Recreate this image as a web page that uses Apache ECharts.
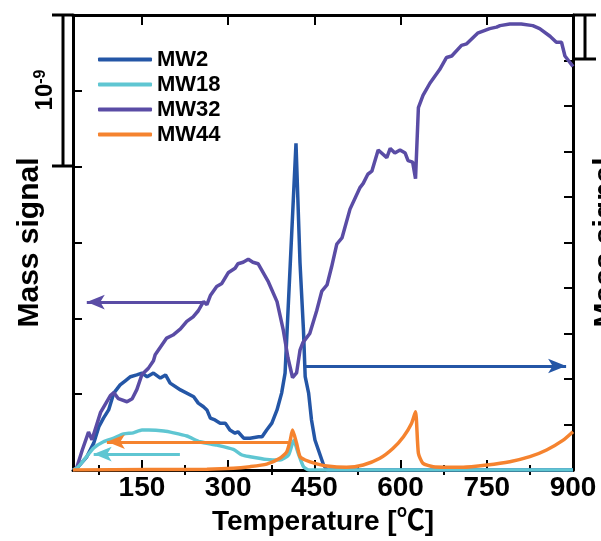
<!DOCTYPE html>
<html>
<head>
<meta charset="utf-8">
<script src="https://cdn.jsdelivr.net/npm/echarts@6.0.0/dist/echarts.min.js"></script>
<style>
    html, body { margin: 0; padding: 0; background: #fff; }
    #massSignal { width: 601px; height: 541px; }
</style>
</head>
<body>
<div id="massSignal"></div>
<script>
    // x axis ticks
    const majorTicks = [150, 300, 450, 600, 750, 900]
    const minorTicks = [75, 225, 375, 525, 675, 825]

    // MW2 (right axis)
    const mw2Temp = [30, 37, 54, 66, 75, 83, 92, 101, 112, 121, 130, 141, 150, 159, 170, 182, 191, 199, 217, 240, 248, 257, 263, 269, 277, 286, 295, 303, 312, 317, 327, 338, 353, 359, 367, 376, 385, 393, 399, 418, 425, 431, 434, 440, 445, 451, 457, 466, 472, 900]
    const mw2Val = [0, 0.04, 0.29, 0.59, 0.95, 1.14, 1.32, 1.69, 1.87, 1.96, 2.05, 2.09, 2.13, 2.05, 2.13, 2.02, 2.09, 1.91, 1.76, 1.61, 1.47, 1.39, 1.32, 1.14, 1.10, 1.03, 1.03, 0.88, 0.81, 0.84, 0.70, 0.70, 0.73, 0.73, 0.88, 1.03, 1.32, 1.69, 2.13, 7.18, 4.55, 3.08, 2.05, 1.69, 1.10, 0.66, 0.44, 0.11, 0, 0]

    // MW18 (left axis)
    const mw18Temp = [30, 37, 49, 66, 83, 101, 118, 135, 150, 162, 188, 205, 228, 251, 280, 309, 324, 338, 367, 390, 405, 414, 422, 431, 437, 442, 900]
    const mw18Val = [0, 0.013, 0.066, 0.145, 0.186, 0.21, 0.237, 0.245, 0.263, 0.263, 0.257, 0.245, 0.224, 0.186, 0.164, 0.136, 0.099, 0.088, 0.07, 0.066, 0.099, 0.194, 0.11, 0.022, 0.005, 0, 0]

    // MW32 (left axis)
    const mw32Temp = [30, 36, 46, 57, 63, 78, 95, 101, 109, 124, 133, 141, 150, 161, 170, 173, 193, 204, 217, 228, 239, 248, 257, 263, 269, 280, 289, 300, 312, 317, 326, 335, 343, 352, 370, 385, 396, 404, 412, 419, 425, 430, 442, 454, 463, 472, 480, 489, 498, 512, 529, 535, 543, 550, 561, 576, 582, 590, 599, 608, 613, 621, 626, 631, 639, 651, 668, 680, 689, 706, 715, 734, 755, 767, 773, 790, 810, 830, 842, 860, 871, 880, 886, 900]
    const mw32Val = [0, 0.01, 0.13, 0.25, 0.20, 0.38, 0.49, 0.51, 0.47, 0.45, 0.47, 0.53, 0.63, 0.67, 0.72, 0.76, 0.87, 0.89, 0.93, 0.98, 1.01, 1.05, 1.11, 1.09, 1.15, 1.21, 1.23, 1.30, 1.33, 1.36, 1.37, 1.39, 1.37, 1.36, 1.24, 1.11, 0.92, 0.74, 0.61, 0.64, 0.79, 0.84, 0.90, 1.05, 1.18, 1.22, 1.34, 1.49, 1.53, 1.72, 1.86, 1.89, 1.95, 1.97, 2.11, 2.06, 2.12, 2.09, 2.11, 2.09, 2.04, 2.03, 1.92, 2.39, 2.47, 2.55, 2.64, 2.72, 2.73, 2.80, 2.81, 2.88, 2.91, 2.92, 2.93, 2.94, 2.94, 2.93, 2.91, 2.86, 2.82, 2.82, 2.73, 2.66]

    // MW44 (left axis)
    const mw44Temp = [30, 164, 263, 309, 338, 367, 390, 402, 408, 412, 419, 425, 434, 451, 472, 506, 535, 564, 587, 605, 619, 626, 631, 639, 657, 709, 750, 790, 825, 854, 883, 900]
    const mw44Val = [0, 0.003, 0.005, 0.011, 0.022, 0.039, 0.077, 0.12, 0.197, 0.263, 0.176, 0.088, 0.066, 0.044, 0.026, 0.018, 0.033, 0.077, 0.143, 0.219, 0.307, 0.384, 0.11, 0.044, 0.022, 0.018, 0.033, 0.055, 0.088, 0.132, 0.197, 0.252]

    // arrows: [fromTemp, toTemp, level]
    const mw2Arrow = [434, 888, 2.286]
    const mw18Arrow = [216, 66, 0.105]
    const mw32Arrow = [256, 54, 1.107]
    const mw44Arrow = [405, 89, 0.186]

    const FONT = '"Liberation Sans", Arial, "Noto Sans CJK SC", sans-serif'
    const colors = {mw2: '#2456a6', mw18: '#5fc6d2', mw32: '#5a4ca5', mw44: '#f5832f'}

    const zip = (t, v) => t.map((x, i) => [x, v[i]])

    const arrowLine = (a, color) => ({
        silent: true,
        symbol: ['none', 'arrow'],
        symbolSize: [11, 18],
        label: {show: false},
        lineStyle: {type: 'solid', color: color, width: 3},
        data: [[{coord: [a[0], a[2]]}, {coord: [a[1], a[2]]}]]
    })

    const lineSeries = (name, t, v, axis, color, arrow) => ({
        name: name,
        type: 'line',
        yAxisIndex: axis,
        showSymbol: false,
        symbol: 'none',
        data: zip(t, v),
        lineStyle: {color: color, width: 3.5},
        itemStyle: {color: color},
        markLine: arrowLine(arrow, color)
    })

    const xBase = {
        type: 'value', min: 30, max: 900,
        splitLine: {show: false},
        axisLabel: {show: false}
    }

    const option = {
        animation: false,
        backgroundColor: '#fff',
        grid: {left: 73, right: 28, top: 15, bottom: 71, outerBoundsMode: 'none'},
        legend: {
            orient: 'vertical',
            left: 93, top: 43,
            icon: 'roundRect',
            itemWidth: 54, itemHeight: 4, itemGap: 2,
            data: ['MW2', 'MW18', 'MW32', 'MW44'],
            textStyle: {fontFamily: FONT, fontWeight: 'bold', fontSize: 22, lineHeight: 23, color: '#000', padding: [0, 0, 0, 0]}
        },
        xAxis: [
            Object.assign({}, xBase, {
                position: 'bottom',
                name: 'Temperature [℃]',
                nameLocation: 'middle',
                nameGap: 38,
                nameTextStyle: {fontFamily: FONT, fontWeight: 'bold', fontSize: 28, color: '#000'},
                axisLine: {show: true, onZero: false, lineStyle: {color: '#000', width: 3}},
                axisTick: {show: true, inside: true, length: 10, lineStyle: {color: '#000', width: 2}, customValues: majorTicks},
                axisLabel: {show: true, customValues: majorTicks, margin: 4, fontFamily: FONT, fontWeight: 'bold', fontSize: 28, color: '#000'}
            }),
            Object.assign({}, xBase, {
                position: 'bottom',
                axisLine: {show: false},
                axisTick: {show: true, inside: true, length: 5, lineStyle: {color: '#000', width: 2}, customValues: minorTicks}
            }),
            Object.assign({}, xBase, {
                position: 'top',
                axisLine: {show: true, onZero: false, lineStyle: {color: '#000', width: 3}},
                axisTick: {show: true, inside: true, length: 10, lineStyle: {color: '#000', width: 2}, customValues: majorTicks}
            }),
            Object.assign({}, xBase, {
                position: 'top',
                axisLine: {show: false},
                axisTick: {show: true, inside: true, length: 5, lineStyle: {color: '#000', width: 2}, customValues: minorTicks}
            })
        ],
        yAxis: [
            {
                type: 'value', min: 0, max: 3, interval: 0.5, position: 'left',
                name: 'Mass signal', nameLocation: 'middle', nameRotate: 90, nameGap: 28,
                nameTextStyle: {fontFamily: FONT, fontWeight: 'bold', fontSize: 30, color: '#000'},
                axisLine: {show: true, onZero: false, lineStyle: {color: '#000', width: 3}},
                axisTick: {show: true, inside: true, length: 9, lineStyle: {color: '#000', width: 2}},
                axisLabel: {show: false},
                splitLine: {show: false}
            },
            {
                type: 'value', min: 0, max: 10, interval: 1, position: 'right',
                name: 'Mass signal', nameLocation: 'middle', nameRotate: 90, nameGap: 18,
                nameTextStyle: {fontFamily: FONT, fontWeight: 'bold', fontSize: 30, color: '#000'},
                axisLine: {show: true, onZero: false, lineStyle: {color: '#000', width: 3}},
                axisTick: {show: true, inside: true, length: 9, lineStyle: {color: '#000', width: 2}},
                axisLabel: {show: false},
                splitLine: {show: false}
            }
        ],
        series: [
            lineSeries('MW2', mw2Temp, mw2Val, 1, colors.mw2, mw2Arrow),
            lineSeries('MW32', mw32Temp, mw32Val, 0, colors.mw32, mw32Arrow),
            Object.assign(lineSeries('MW18', mw18Temp, mw18Val, 0, colors.mw18, mw18Arrow), {smooth: 0.2}),
            Object.assign(lineSeries('MW44', mw44Temp, mw44Val, 0, colors.mw44, mw44Arrow), {smooth: 0.2})
        ],
        // scale bars and the 10^-9 mark
        graphic: [
            {type: 'line', shape: {x1: 63, y1: 15, x2: 63, y2: 166}, style: {stroke: '#000', lineWidth: 3}},
            {type: 'line', shape: {x1: 52, y1: 15, x2: 73, y2: 15}, style: {stroke: '#000', lineWidth: 3}},
            {type: 'line', shape: {x1: 52, y1: 166, x2: 73, y2: 166}, style: {stroke: '#000', lineWidth: 3}},
            {type: 'line', shape: {x1: 585, y1: 15, x2: 585, y2: 59}, style: {stroke: '#000', lineWidth: 3}},
            {type: 'line', shape: {x1: 573, y1: 15, x2: 596, y2: 15}, style: {stroke: '#000', lineWidth: 3}},
            {type: 'line', shape: {x1: 573, y1: 59, x2: 596, y2: 59}, style: {stroke: '#000', lineWidth: 3}},
            {
                type: 'text', x: 45, y: 90, rotation: Math.PI / 2,
                style: {
                    text: '{a|10}{b|-9}',
                    align: 'center', verticalAlign: 'middle',
                    rich: {
                        a: {fontFamily: FONT, fontWeight: 'bold', fontSize: 24, fill: '#000'},
                        b: {fontFamily: FONT, fontWeight: 'bold', fontSize: 16, fill: '#000', verticalAlign: 'top', padding: [0, 0, 8, 0]}
                    }
                }
            }
        ]
    }

    const massChart = echarts.init(document.getElementById('massSignal'))
    massChart.setOption(option)
</script>
</body>
</html>
